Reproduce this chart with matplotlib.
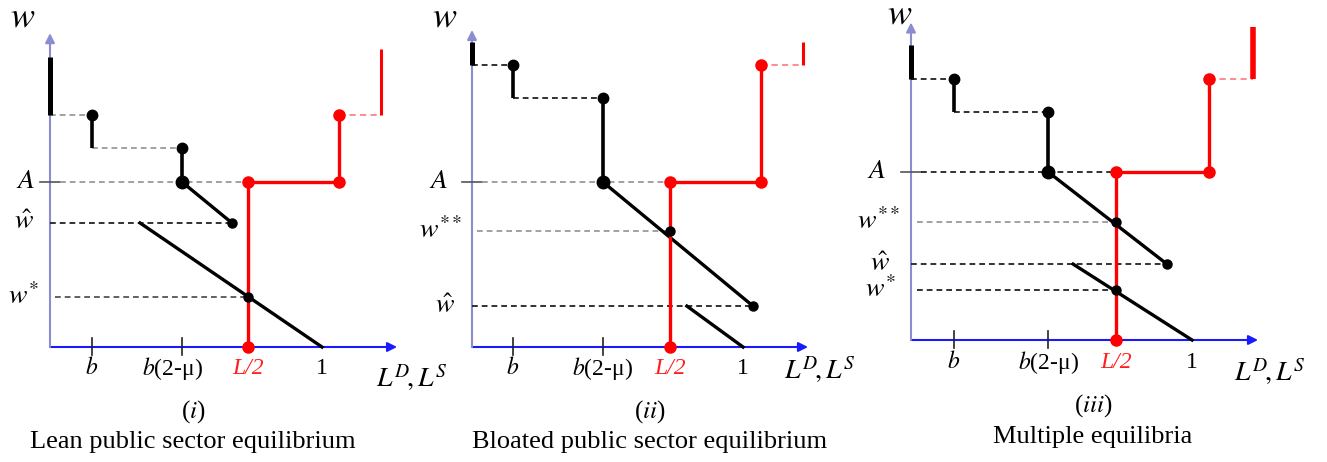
import matplotlib
matplotlib.use("Agg")
import matplotlib.pyplot as plt

plt.rcParams['mathtext.fontset'] = 'stix'
plt.rcParams['font.family'] = ['Liberation Serif', 'DejaVu Serif']

# ---------------- data (per panel: i, ii, iii) ----------------
panel_tags = ['i', 'ii', 'iii']
titles = ['Lean public sector equilibrium',
          'Bloated public sector equilibrium',
          'Multiple equilibria']
tick_labels = [r'$b$', r'$b$(2-μ)', 'L/2', '1']

x_b = [0.154, 0.151, 0.153]
x_b2mu = [0.485, 0.483, 0.488]
x_half = [0.728, 0.731, 0.730]
x_one = [1.0, 1.0, 1.0]
x_red_step = [1.063, 1.066, 1.060]
x_red_end = [1.217, 1.221, 1.217]
x_upper_end = [0.669, 1.037, 0.911]
x_lower_start = [0.331, 0.793, 0.577]

y_top = [0.853, 1.041, 0.929]
y_second = [0.732, 0.919, 0.811]
y_A = [0.607, 0.609, 0.598]
y_hat = [0.456, 0.151, 0.270]
y_star = [0.184, None, 0.178]
y_sstar = [None, 0.428, 0.420]
y_bar_top = [1.066, 1.125, 1.050]
y_red_top = [1.096, 1.125, 1.114]

# ---------------- layout ----------------
W, H = 1327, 462
origins = [(50, 347, 272), (472, 347, 271), (911, 340, 281)]  # px origin x, y, unit
arrow_x_end = [1.276, 1.240, 1.235]
arrow_y_end = [1.154, 1.170, 1.130]
DARK = '#222222'
GREY = '#9a9a9a'
MID = '#555555'
dash_cols = [  # top, second, A, hat, star, sstar
    dict(top=GREY, second=GREY, A=GREY, hat=DARK, star=MID, sstar=GREY),
    dict(top=DARK, second=DARK, A=GREY, hat=DARK, star=DARK, sstar=GREY),
    dict(top=DARK, second=DARK, A=DARK, hat=DARK, star=DARK, sstar=GREY),
]
red_end_lw = [2.2, 2.2, 4.0]
ylab_dx = [dict(A=-24, hat=-26, star=-27, sstar=-28),
           dict(A=-33, hat=-27, star=-30, sstar=-31),
           dict(A=-34, hat=-31, star=-31, sstar=-32)]
b2_label_dx = [-9, 0, 0]
w_pos = [(23, 18), (445, 18), (900, 15)]
lds_pos = [(412, 378), (820, 370), (1270, 372)]
tag_pos = [(193, 412), (650, 412), (1093, 406)]
title_pos = [(193, 442), (650, 442), (1093, 437)]
tick_dy = [-21, -21, -22]

PT = 0.72  # points per pixel at 100 dpi

fig = plt.figure(figsize=(W / 100, H / 100), dpi=100)

DASH = (0, (3.2, 2.2))

for i in range(3):
    ox, oy, u = origins[i]
    ax = fig.add_axes([0, 0, 1, 1])
    ax.set_xlim(-ox / u, (W - ox) / u)
    ax.set_ylim(-(H - oy) / u, oy / u)
    ax.axis('off')
    ax.patch.set_alpha(0)

    b, b2, half, one = x_b[i], x_b2mu[i], x_half[i], x_one[i]
    r2, r3 = x_red_step[i], x_red_end[i]
    top, sec, A, hat = y_top[i], y_second[i], y_A[i], y_hat[i]
    dc = dash_cols[i]

    # axes with arrows
    ax.annotate('', xy=(arrow_x_end[i], 0), xytext=(0, 0), zorder=1,
                arrowprops=dict(arrowstyle='-|>', color='#1a1aff', lw=1.5,
                                mutation_scale=14, shrinkA=0, shrinkB=0))
    ax.annotate('', xy=(0, arrow_y_end[i]), xytext=(0, 0), zorder=1,
                arrowprops=dict(arrowstyle='-|>', color='#8c8cd0', lw=1.5,
                                mutation_scale=14, shrinkA=0, shrinkB=0))
    # x ticks
    for xt in (b, b2):
        ax.plot([xt, xt], [-0.03, 0.033], color=DARK, lw=1.2)
    # A tick
    ax.plot([-0.037, 0.037], [A, A], color=MID, lw=1.2)

    # dashed guide lines
    ax.plot([0, b], [top, top], color=dc['top'], lw=1.3, ls=DASH)
    ax.plot([b, b2], [sec, sec], color=dc['second'], lw=1.3, ls=DASH)
    ax.plot([0.037, half], [A, A], color=dc['A'], lw=1.3, ls=DASH)
    ax.plot([0, x_upper_end[i]], [hat, hat], color=dc['hat'], lw=1.3, ls=DASH)
    if y_star[i] is not None:
        ax.plot([0.02, half], [y_star[i]] * 2, color=dc['star'], lw=1.3, ls=DASH)
    if y_sstar[i] is not None:
        ax.plot([0.02, half], [y_sstar[i]] * 2, color=dc['sstar'], lw=1.3, ls=DASH)

    # labor demand (black)
    ax.plot([0, 0], [top, y_bar_top[i]], color='black', lw=3.6,
            solid_capstyle='butt', zorder=4)
    ax.plot([b, b], [top, sec], color='black', lw=2.6, solid_capstyle='butt')
    ax.plot([b2, b2], [sec, A], color='black', lw=2.6, solid_capstyle='butt')
    ax.plot([b2, x_upper_end[i]], [A, hat], color='black', lw=2.4)
    ax.plot([x_lower_start[i], one], [hat, 0], color='black', lw=2.4)

    # labor supply (red)
    ax.plot([half, half, r2, r2], [0, A, A, top], color='#ff0000', lw=2.4)
    ax.plot([r2, r3], [top, top], color='#ff8c8c', lw=1.4, ls=DASH)
    ax.plot([r3, r3], [top, y_red_top[i]], color='#ff0000', lw=red_end_lw[i],
            solid_capstyle='butt')

    # dots
    ax.plot([b, b2], [top, sec], 'o', color='black', ms=7.5)
    ax.plot([b2], [A], 'o', color='black', ms=9)
    ax.plot([x_upper_end[i]], [hat], 'o', color='black', ms=6.5)
    for ys in (y_star[i], y_sstar[i]):
        if ys is not None:
            ax.plot([half], [ys], 'o', color='black', ms=6.5)
    ax.plot([half, half, r2, r2], [0, A, A, top], 'o', color='#ff0000', ms=8,
            zorder=5)

    # tick labels
    tick_x = [b, b2, half, one]
    for j, (xt, lab) in enumerate(zip(tick_x, tick_labels)):
        kw = {}
        col = 'black'
        dx = b2_label_dx[i] if j == 1 else 0
        if lab == 'L/2':
            col = '#ff1f1f'
            kw['fontstyle'] = 'italic'
        ax.annotate(lab, xy=(xt, 0), xytext=(dx * PT, tick_dy[i] * PT),
                    textcoords='offset points', ha='center', va='center',
                    fontsize=17, color=col, **kw)

    # y labels
    ylabs = [('A', A, r'$A$'), ('hat', hat, r'$\hat{w}$')]
    if y_sstar[i] is not None:
        ylabs.append(('sstar', y_sstar[i], r'$w^{**}$'))
    if y_star[i] is not None:
        ylabs.append(('star', y_star[i], r'$w^{*}$'))
    for key, yv, lab in ylabs:
        ax.annotate(lab, xy=(0, yv), xytext=(ylab_dx[i][key] * PT, 0),
                    textcoords='offset points', ha='center', va='center',
                    fontsize=20)

    fig.text(w_pos[i][0] / W, 1 - w_pos[i][1] / H, r'$w$', fontsize=26,
             ha='center', va='center')
    fig.text(lds_pos[i][0] / W, 1 - lds_pos[i][1] / H, r'$L^D\!,L^S$',
             fontsize=20, ha='center', va='center')
    fig.text(tag_pos[i][0] / W, 1 - tag_pos[i][1] / H,
             '(' + r'$' + panel_tags[i] + r'$' + ')', fontsize=18,
             ha='center', va='center')
    fig.text(title_pos[i][0] / W, 1 - title_pos[i][1] / H, titles[i],
             fontsize=19, ha='center', va='center')

fig.savefig('out.png', dpi=100)
